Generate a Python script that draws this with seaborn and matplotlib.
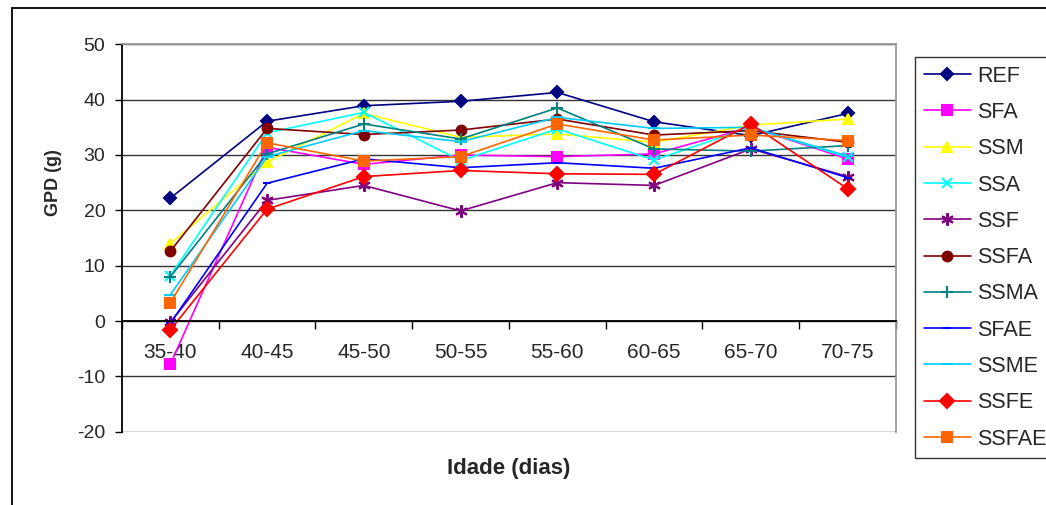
import numpy as np
import pandas as pd
import matplotlib
matplotlib.use('Agg')
import matplotlib.pyplot as plt
from matplotlib.patches import Rectangle
import seaborn as sns

# Dados
idades = ['35-40', '40-45', '45-50', '50-55', '55-60', '60-65', '65-70', '70-75']
REF = [22.2, 36.1, 38.9, 39.7, 41.3, 36.0, 33.5, 37.5]
SFA = [-7.8, 31.4, 28.3, 30.0, 29.7, 30.2, 35.0, 29.3]
SSM = [14.0, 28.7, 37.5, 33.2, 33.8, 32.3, 35.4, 36.5]
SSA = [8.2, 34.0, 37.7, 29.0, 34.7, 29.1, 35.0, 29.6]
SSF = [-0.25, 21.8, 24.5, 19.9, 25.0, 24.5, 31.1, 26.1]
SSFA = [12.6, 34.8, 33.7, 34.5, 36.5, 33.6, 34.4, 32.3]
SSMA = [8.0, 30.2, 35.6, 32.9, 38.5, 31.1, 30.7, 31.7]
SFAE = [-0.4, 24.9, 29.3, 27.7, 28.6, 27.6, 31.3, 25.9]
SSME = [4.75, 29.7, 34.4, 32.4, 36.8, 34.8, 35.0, 29.8]
SSFE = [-1.6, 20.2, 26.1, 27.2, 26.6, 26.5, 35.6, 23.9]
SSFAE = [3.3, 32.2, 28.9, 29.7, 35.6, 32.7, 33.6, 32.6]

series = {'REF': REF, 'SFA': SFA, 'SSM': SSM, 'SSA': SSA, 'SSF': SSF, 'SSFA': SSFA,
          'SSMA': SSMA, 'SFAE': SFAE, 'SSME': SSME, 'SSFE': SSFE, 'SSFAE': SSFAE}

# estilo de cada tratamento: cor, marcador, tamanho
estilos = {
    'REF': ('#000080', 'D', 6),
    'SFA': ('#FF00FF', 's', 6.5),
    'SSM': ('#FFFF00', '^', 7),
    'SSA': ('#00FFFF', 'x', 7),
    'SSF': ('#800080', (6, 2, 0), 9),
    'SSFA': ('#800000', 'o', 7),
    'SSMA': ('#008080', '+', 9),
    'SFAE': ('#0000FF', '_', 6),
    'SSME': ('#00CCFF', '_', 8),
    'SSFE': ('#FF0000', 'D', 7),
    'SSFAE': ('#FF6600', 's', 7),
}

df = pd.DataFrame(series, index=idades).reset_index(names='Idade')
df['pos'] = np.arange(len(idades))

sns.set_theme(style="white")
plt.rcParams['font.family'] = ['Liberation Sans', 'DejaVu Sans']
plt.rcParams['axes.unicode_minus'] = False

fig = plt.figure(figsize=(10.46, 5.05), dpi=100)
ax = fig.add_axes([0.1166, 0.1451, 0.74, 0.7672])

for nome in series:
    cor, mk, ms = estilos[nome]
    sns.lineplot(data=df, x='pos', y=nome, color=cor, marker=mk, markersize=ms,
                 markeredgecolor=cor, markerfacecolor=cor, markeredgewidth=1.5,
                 linewidth=1.2, label=nome, ax=ax, legend=False)

ax.set_xlim(-0.5, 7.5)
ax.set_ylim(-20, 50)
ax.set_yticks(np.arange(-20, 51, 10))
ax.yaxis.grid(True, color='#333333', linewidth=1)
ax.set_axisbelow(True)

# eixo x passando pelo zero
ax.spines['bottom'].set_position(('data', 0))
ax.spines['bottom'].set_color('black')
ax.spines['left'].set_color('black')
ax.spines['top'].set_color('#999999')
ax.spines['right'].set_color('#999999')
for s in ax.spines.values():
    s.set_linewidth(1.3)

ax.set_xticks(df['pos'])
ax.set_xticklabels(idades)
ax.set_xticks(np.arange(-0.5, 7.6, 1), minor=True)
ax.tick_params(axis='x', which='major', length=0, pad=16, labelsize=15)
ax.tick_params(axis='x', which='minor', length=6, width=1, color='black', direction='out', bottom=True)
ax.tick_params(axis='y', length=5, width=1, color='black', direction='out', left=True, labelsize=14, pad=7)

ax.set_xlabel('Idade (dias)', fontsize=16, fontweight='bold')
ax.xaxis.set_label_coords(0.5, -0.067)
ax.set_ylabel('GPD (g)', fontsize=13, fontweight='bold')
ax.yaxis.set_label_coords(-0.078, 0.644)

handles, labels = ax.get_legend_handles_labels()
leg = fig.legend(handles, labels, loc='upper left', bbox_to_anchor=(0.8747, 0.887),
                 frameon=True, fancybox=False, edgecolor='black', fontsize=15.5,
                 labelspacing=0.71, handlelength=2.2, borderpad=0.4, borderaxespad=0,
                 handletextpad=0.3)
leg.get_frame().set_linewidth(1)

# moldura externa do gráfico
fig.patches.append(Rectangle((12 / 1046, -0.1), 1.2, 1 - 8 / 505 + 0.1, transform=fig.transFigure,
                             fill=False, edgecolor='black', linewidth=1.3))

plt.savefig('out.png', dpi=100)
